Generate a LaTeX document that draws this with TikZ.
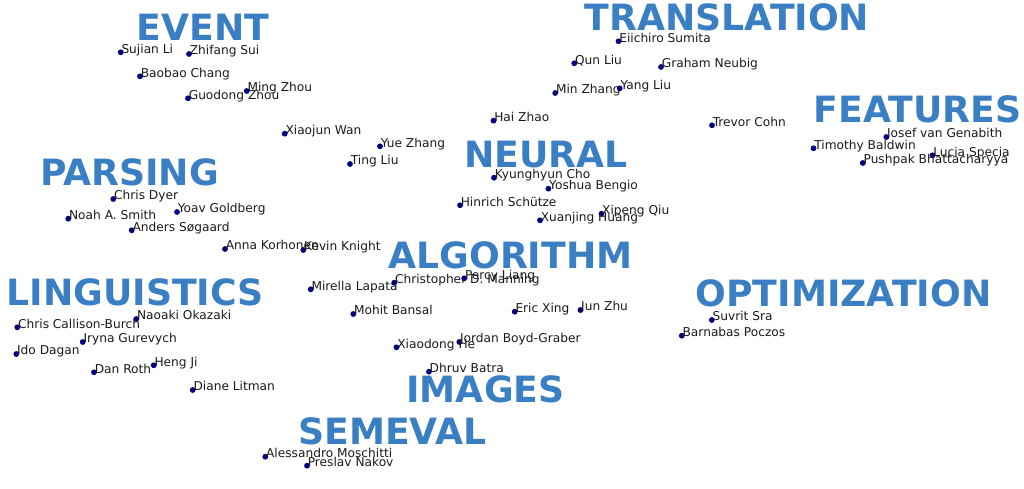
\documentclass[tikz,border=0pt]{standalone}
\usepackage{fontspec}
\setmainfont{DejaVu Sans}
\usetikzlibrary{positioning}
\definecolor{topicblue}{RGB}{58,126,196}
\definecolor{dotnavy}{RGB}{0,0,128}
\definecolor{nametext}{RGB}{26,26,26}

\begin{document}
\begin{tikzpicture}[
    x=1pt, y=-1pt,
    topic/.style={
        anchor=base,
        inner sep=0pt,
        text=topicblue,
        font=\fontsize{36.2}{40}\selectfont\bfseries
    },
    dot/.style={circle, fill=dotnavy, inner sep=0pt, minimum size=5.8pt},
    person/.style={anchor=base west, inner sep=0pt, xshift=0.6pt, yshift=-0.9pt,
        text=nametext, font=\fontsize{12.2}{14}\selectfont}
]
\useasboundingbox (0,0) rectangle (1024,489);

% Topics
\node[topic] (event) at (203,40.7) {EVENT};
\node[topic] (parsing) at (129.5,185.7) {PARSING};
\node[topic] (translation) at (727,30.7) {TRANSLATION};
\node[topic] (features) at (917.5,122.7) {FEATURES};
\node[topic] (neural) at (545.7,167.7) {NEURAL};
\node[topic] (algorithm) at (510.4,268.3) {ALGORITHM};
\node[topic] (linguistics) at (135.3,305.7) {LINGUISTICS};
\node[topic] (optimization) at (843.5,306.7) {OPTIMIZATION};
\node[topic] (images) at (485.5,402.7) {IMAGES};
\node[topic] (semeval) at (392.5,444) {SEMEVAL};

% Event
\node[dot] (li) at (120.7,52.3) {}; \node[person] (li-t) at (li) {Sujian Li};
\node[dot] (sui) at (189,54) {}; \node[person] (sui-t) at (sui) {Zhifang Sui};
\node[dot] (chang) at (140,76.3) {}; \node[person] (chang-t) at (chang) {Baobao Chang};
\node[dot] (mzhou) at (246.7,91) {}; \node[person] (mzhou-t) at (mzhou) {Ming Zhou};
\node[dot] (gzhou) at (188,98.3) {}; \node[person] (gzhou-t) at (gzhou) {Guodong Zhou};
\node[dot] (wan) at (284.7,133.7) {}; \node[person] (wan-t) at (wan) {Xiaojun Wan};
\node[dot] (yzhang) at (380,146.3) {}; \node[person] (yzhang-t) at (yzhang) {Yue Zhang};
\node[dot] (tliu) at (350,164) {}; \node[person] (tliu-t) at (tliu) {Ting Liu};

% Parsing
\node[dot] (dyer) at (113.3,199) {}; \node[person] (dyer-t) at (dyer) {Chris Dyer};
\node[dot] (goldberg) at (177,212) {}; \node[person] (goldberg-t) at (goldberg) {Yoav Goldberg};
\node[dot] (smith) at (68.3,218.7) {}; \node[person] (smith-t) at (smith) {Noah A. Smith};
\node[dot] (sogaard) at (131.7,230.3) {}; \node[person] (sogaard-t) at (sogaard) {Anders Søgaard};
\node[dot] (korhonen) at (225,249) {}; \node[person] (korhonen-t) at (korhonen) {Anna Korhonen};
\node[dot] (knight) at (303.3,250) {}; \node[person] (knight-t) at (knight) {Kevin Knight};

% Translation
\node[dot] (sumita) at (618.5,41.3) {}; \node[person] (sumita-t) at (sumita) {Eiichiro Sumita};
\node[dot] (qliu) at (574.3,63.3) {}; \node[person] (qliu-t) at (qliu) {Qun Liu};
\node[dot] (neubig) at (661,67) {}; \node[person] (neubig-t) at (neubig) {Graham Neubig};
\node[dot] (mzhang) at (555.2,93) {}; \node[person] (mzhang-t) at (mzhang) {Min Zhang};
\node[dot] (yliu) at (619.7,88.3) {}; \node[person] (yliu-t) at (yliu) {Yang Liu};
\node[dot] (hzhao) at (493.5,120.7) {}; \node[person] (hzhao-t) at (hzhao) {Hai Zhao};
\node[dot] (cohn) at (712,125.3) {}; \node[person] (cohn-t) at (cohn) {Trevor Cohn};

% Features
\node[dot] (genabith) at (886.3,137) {}; \node[person] (genabith-t) at (genabith) {Josef van Genabith};
\node[dot] (baldwin) at (813.5,148.3) {}; \node[person] (baldwin-t) at (baldwin) {Timothy Baldwin};
\node[dot] (specia) at (932.5,155.3) {}; \node[person] (specia-t) at (specia) {Lucia Specia};
\node[dot] (bhatta) at (862.8,163) {}; \node[person] (bhatta-t) at (bhatta) {Pushpak Bhattacharyya};

% Neural
\node[dot] (cho) at (494,177.7) {}; \node[person] (cho-t) at (cho) {Kyunghyun Cho};
\node[dot] (bengio) at (548.4,188.7) {}; \node[person] (bengio-t) at (bengio) {Yoshua Bengio};
\node[dot] (schuetze) at (460,205.3) {}; \node[person] (schuetze-t) at (schuetze) {Hinrich Schütze};
\node[dot] (qiu) at (601.4,213.7) {}; \node[person] (qiu-t) at (qiu) {Xipeng Qiu};
\node[dot] (huang) at (540,220.3) {}; \node[person] (huang-t) at (huang) {Xuanjing Huang};

% Algorithm
\node[dot] (lapata) at (310.7,289.3) {}; \node[person] (lapata-t) at (lapata) {Mirella Lapata};
\node[dot] (manning) at (394.2,282.7) {}; \node[person] (manning-t) at (manning) {Christopher D. Manning};
\node[dot] (liang) at (464.2,278.3) {}; \node[person] (liang-t) at (liang) {Percy Liang};
\node[dot] (bansal) at (353.3,314) {}; \node[person] (bansal-t) at (bansal) {Mohit Bansal};
\node[dot] (xing) at (514.7,311.7) {}; \node[person] (xing-t) at (xing) {Eric Xing};
\node[dot] (jzhu) at (580.4,310) {}; \node[person] (jzhu-t) at (jzhu) {Jun Zhu};
\node[dot] (boyd) at (459.3,342) {}; \node[person] (boyd-t) at (boyd) {Jordan Boyd-Graber};
\node[dot] (he) at (396.5,347.3) {}; \node[person] (he-t) at (he) {Xiaodong He};

% Optimization
\node[dot] (sra) at (711.8,320) {}; \node[person] (sra-t) at (sra) {Suvrit Sra};
\node[dot] (poczos) at (681.8,335.7) {}; \node[person] (poczos-t) at (poczos) {Barnabas Poczos};

% Linguistics
\node[dot] (okazaki) at (136.3,319) {}; \node[person] (okazaki-t) at (okazaki) {Naoaki Okazaki};
\node[dot] (burch) at (17.3,327.3) {}; \node[person] (burch-t) at (burch) {Chris Callison-Burch};
\node[dot] (gurevych) at (82.7,342) {}; \node[person] (gurevych-t) at (gurevych) {Iryna Gurevych};
\node[dot] (dagan) at (16.3,354) {}; \node[person] (dagan-t) at (dagan) {Ido Dagan};
\node[dot] (ji) at (153.7,365.3) {}; \node[person] (ji-t) at (ji) {Heng Ji};
\node[dot] (roth) at (94,372.3) {}; \node[person] (roth-t) at (roth) {Dan Roth};
\node[dot] (litman) at (192.7,390) {}; \node[person] (litman-t) at (litman) {Diane Litman};

% Images and SemEval
\node[dot] (batra) at (428.9,371.7) {}; \node[person] (batra-t) at (batra) {Dhruv Batra};
\node[dot] (moschitti) at (265.3,456.7) {}; \node[person] (moschitti-t) at (moschitti) {Alessandro Moschitti};
\node[dot] (nakov) at (307,465.7) {}; \node[person] (nakov-t) at (nakov) {Preslav Nakov};

\end{tikzpicture}
\end{document}
